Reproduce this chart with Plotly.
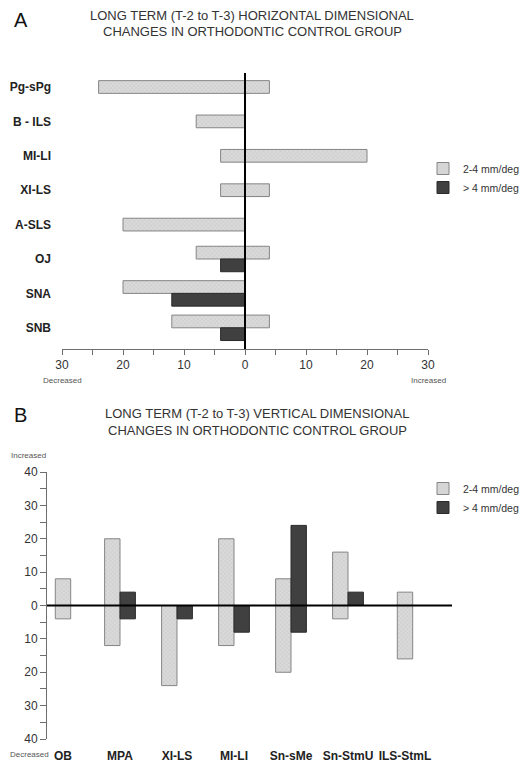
import plotly.graph_objects as go

# ---------------- data: panel A (horizontal) ----------------
cats_h = ["Pg-sPg", "B - ILS", "MI-LI", "XI-LS", "A-SLS", "OJ", "SNA", "SNB"]
h_light_low = [-24, -8, -4, -4, -20, -8, -20, -12]
h_light_high = [4, 0, 20, 4, 0, 4, 0, 4]
h_dark_low = [None, None, None, None, None, -4, -12, -4]
h_dark_high = [None, None, None, None, None, 0, 0, 0]

# ---------------- data: panel B (vertical) ----------------
cats_v = ["OB", "MPA", "XI-LS", "MI-LI", "Sn-sMe", "Sn-StmU", "ILS-StmL"]
v_light_low = [-4, -12, -24, -12, -20, -4, -16]
v_light_high = [8, 20, 0, 20, 8, 16, 4]
v_dark_low = [None, -4, -4, -8, -8, 0, None]
v_dark_high = [None, 4, 0, 0, 24, 4, None]

series_names = ["2-4 mm/deg", "> 4 mm/deg"]
h_ticks = [-30, -25, -20, -15, -10, -5, 0, 5, 10, 15, 20, 25, 30]
v_ticks = [-40, -35, -30, -25, -20, -15, -10, -5, 0, 5, 10, 15, 20, 25, 30, 35, 40]

LIGHT = "#dadada"
LIGHT_FG = "#ababab"
LIGHT_LINE = "#858585"
DARK = "#404040"
DARK_LINE = "#2a2a2a"
FONT = "Liberation Sans, Arial, sans-serif"


def spans(lows, highs):
    length = [(h - l) if (l is not None and h is not None) else None for l, h in zip(lows, highs)]
    return list(lows), length


def offsets(own, other, w, first):
    out = []
    for o, p in zip(own, other):
        if p is None:
            out.append(-w / 2)
        else:
            out.append(-w if first else 0)
    return out


fig = go.Figure()

light_marker = dict(color=LIGHT, line=dict(color=LIGHT_LINE, width=1),
                    pattern=dict(shape="x", size=3, solidity=0.25, fgcolor=LIGHT_FG, bgcolor=LIGHT))
dark_marker = dict(color=DARK, line=dict(color=DARK_LINE, width=1))

# panel A
wh = 0.37
idx_h = list(range(len(cats_h)))
b, L = spans(h_light_low, h_light_high)
fig.add_trace(go.Bar(
    y=idx_h, x=L, base=b, orientation="h", width=wh,
    offset=offsets(h_light_low, h_dark_low, wh, True), marker=light_marker,
    name=series_names[0], legend="legend", xaxis="x", yaxis="y", hoverinfo="skip"))
b, L = spans(h_dark_low, h_dark_high)
fig.add_trace(go.Bar(
    y=idx_h, x=L, base=b, orientation="h", width=wh,
    offset=offsets(h_dark_low, h_light_low, wh, False), marker=dark_marker,
    name=series_names[1], legend="legend", xaxis="x", yaxis="y", hoverinfo="skip"))

# panel B
wv = 0.27
idx_v = list(range(len(cats_v)))
b, L = spans(v_light_low, v_light_high)
fig.add_trace(go.Bar(
    x=idx_v, y=L, base=b, width=wv,
    offset=offsets(v_light_low, v_dark_low, wv, True), marker=light_marker,
    name=series_names[0], legend="legend2", xaxis="x2", yaxis="y2", hoverinfo="skip"))
b, L = spans(v_dark_low, v_dark_high)
fig.add_trace(go.Bar(
    x=idx_v, y=L, base=b, width=wv,
    offset=offsets(v_dark_low, v_light_low, wv, False), marker=dark_marker,
    name=series_names[1], legend="legend2", xaxis="x2", yaxis="y2", hoverinfo="skip"))

W, H = 521, 767


def px_x(p):
    return p / W


def px_y(p):
    return 1 - p / H


axis_gray = "#6e6e6e"
tick_font = dict(family=FONT, size=12, color="#333333")
lab_font = dict(family=FONT, size=12, color="#222222", weight="bold")
leg_font = dict(family=FONT, size=10.5, color="#333333")

fig.update_layout(
    width=W, height=H, margin=dict(l=0, r=0, t=0, b=0, autoexpand=False),
    paper_bgcolor="white", plot_bgcolor="white",
    barmode="overlay", showlegend=True,
    xaxis=dict(domain=[px_x(62), px_x(428)], range=[-30, 30], anchor="y",
               tickvals=h_ticks,
               ticktext=[str(abs(t)) if t % 10 == 0 else "" for t in h_ticks],
               showline=True, linecolor=axis_gray, linewidth=1,
               ticks="outside", ticklen=5, tickcolor=axis_gray, tickwidth=1,
               showgrid=False, zeroline=False, tickfont=tick_font, fixedrange=True,
               automargin=False),
    yaxis=dict(domain=[px_y(349), px_y(73)], range=[(349 - 87) / 34.4, (73 - 87) / 34.4],
               anchor="x", tickvals=idx_h, ticktext=cats_h,
               showline=False, ticks="", showgrid=False, zeroline=False,
               ticklabelstandoff=10, tickfont=lab_font, fixedrange=True, automargin=False),
    xaxis2=dict(domain=[px_x(47), px_x(452)], range=[-16 / 57, (452 - 63) / 57], anchor="y2",
                tickvals=idx_v, ticktext=cats_v, showline=False, ticks="",
                showgrid=False, zeroline=False, ticklabelstandoff=8,
                tickfont=lab_font, fixedrange=True, automargin=False),
    yaxis2=dict(domain=[px_y(739), px_y(472)], range=[-40, 40], anchor="x2",
                tickvals=v_ticks,
                ticktext=[str(abs(t)) if t % 10 == 0 else "" for t in v_ticks],
                showline=True, linecolor=axis_gray, linewidth=1,
                ticks="outside", ticklen=6, tickcolor=axis_gray, tickwidth=1,
                showgrid=False, zeroline=False, tickfont=tick_font, fixedrange=True,
                automargin=False),
    legend=dict(x=px_x(423), y=px_y(154), xanchor="left", yanchor="top",
                font=leg_font, bgcolor="rgba(0,0,0,0)", tracegroupgap=0, itemclick=False),
    legend2=dict(x=px_x(423), y=px_y(474), xanchor="left", yanchor="top",
                 font=leg_font, bgcolor="rgba(0,0,0,0)", tracegroupgap=0, itemclick=False),
    shapes=[
        dict(type="line", xref="x", yref="y domain", x0=0, x1=0, y0=0, y1=1,
             line=dict(color="black", width=2)),
        dict(type="line", xref="x2 domain", yref="y2", x0=0, x1=1, y0=0, y1=0,
             line=dict(color="black", width=2)),
    ],
)

title_font = dict(family=FONT, size=13, color="#333333")
small = dict(family=FONT, size=8, color="#555")
ann = [
    dict(text="A", x=px_x(12), y=px_y(20), font=dict(family=FONT, size=20, color="#111")),
    dict(text="LONG TERM (T-2 to T-3) HORIZONTAL DIMENSIONAL", x=px_x(252), y=px_y(15), font=title_font),
    dict(text="CHANGES IN ORTHODONTIC CONTROL GROUP", x=px_x(252), y=px_y(32), font=title_font),
    dict(text="Decreased", x=px_x(62), y=px_y(380), font=small),
    dict(text="Increased", x=px_x(428), y=px_y(380), font=small),
    dict(text="B", x=px_x(12), y=px_y(415), font=dict(family=FONT, size=20, color="#111")),
    dict(text="LONG TERM (T-2 to T-3) VERTICAL DIMENSIONAL", x=px_x(257), y=px_y(413), font=title_font),
    dict(text="CHANGES IN ORTHODONTIC CONTROL GROUP", x=px_x(257), y=px_y(430), font=title_font),
    dict(text="Increased", x=px_x(28), y=px_y(456), font=small),
    dict(text="Decreased", x=px_x(29), y=px_y(754), font=small),
]
for a in ann:
    a.update(xref="paper", yref="paper", showarrow=False, xanchor="center", yanchor="middle")
    if a["text"] in ("A", "B"):
        a["xanchor"] = "left"
fig.update_layout(annotations=ann)

fig.write_html(
    "out.html",
    config={"displayModeBar": False, "staticPlot": True},
    post_script="document.body.style.margin='0';document.body.style.overflow='hidden';",
)
